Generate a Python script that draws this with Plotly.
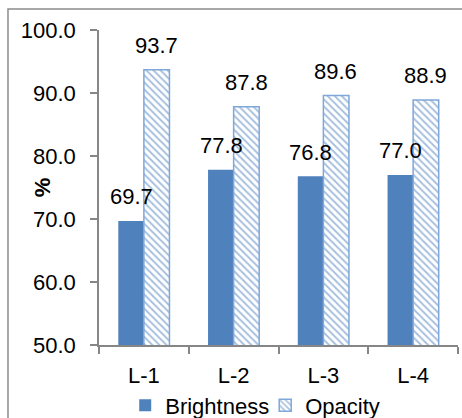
import plotly.graph_objects as go

categories = ["L-1", "L-2", "L-3", "L-4"]
brightness = [69.7, 77.8, 76.8, 77.0]
opacity = [93.7, 87.8, 89.6, 88.9]
y_ticks = [50, 60, 70, 80, 90, 100]

FONT = "Liberation Sans"
FS = 22
BLUE = "#4F81BD"
AX = "#868686"

fig = go.Figure()
fig.add_trace(go.Bar(
    name="Brightness", x=categories, y=brightness,
    marker=dict(color=BLUE, line=dict(width=0)),
))
fig.add_trace(go.Bar(
    name="Opacity", x=categories, y=opacity,
    marker=dict(color="white", line=dict(color="#7FA7D9", width=1.5),
                pattern=dict(shape="\\", fgcolor="#4F81BD", bgcolor="white",
                             size=5, solidity=0.4)),
))

annotations = []
for c, v in zip(categories, brightness):
    annotations.append(dict(x=c, y=v, text=f"{v:.1f}", showarrow=False,
                            xshift=-12.5, yshift=24, font=dict(family=FONT, size=FS, color="black")))
for c, v in zip(categories, opacity):
    annotations.append(dict(x=c, y=v, text=f"{v:.1f}", showarrow=False,
                            xshift=12.5, yshift=24, font=dict(family=FONT, size=FS, color="black")))
annotations.append(dict(xref="paper", yref="paper", x=-0.198, y=0.502, text="<b>%</b>",
                        textangle=-90, showarrow=False,
                        font=dict(family=FONT, size=FS, color="black")))
fig.update_layout(annotations=annotations)

fig.update_layout(
    width=462, height=418,
    margin=dict(l=99, r=4, t=30, b=73, autoexpand=False),
    paper_bgcolor="white", plot_bgcolor="white",
    barmode="group", bargap=0.43, bargroupgap=0,
    font=dict(family=FONT, size=FS, color="black"),
    showlegend=True,
    legend=dict(orientation="h", x=0.463, xanchor="center", y=-0.192, yanchor="middle",
                font=dict(family=FONT, size=FS), itemwidth=30, entrywidth=95,
                tracegroupgap=0, bgcolor="rgba(0,0,0,0)"),
    shapes=[dict(type="rect", xref="paper", yref="paper",
                 x0=-0.2535, x1=1.2, y0=-0.4, y1=1.0667,
                 line=dict(color="#8C8C8C", width=1.5), fillcolor="rgba(0,0,0,0)", layer="below")],
)
fig.update_yaxes(range=[50, 100], tickvals=y_ticks, ticktext=[f"{t:.1f}" for t in y_ticks],
                 showgrid=False, zeroline=False, showline=True, linecolor=AX, linewidth=1.5,
                 ticks="outside", ticklen=7, tickcolor=AX, tickwidth=1.5,
                 ticklabelstandoff=10)
fig.update_xaxes(showgrid=False, showline=True, linecolor=AX, linewidth=1.5,
                 ticks="outside", ticklen=7, tickcolor=AX, tickwidth=1.5,
                 tickson="boundaries", ticklabelstandoff=10)

fig.write_html("out.html", config={"displayModeBar": False},
               post_script="document.body.style.margin='0px';")
